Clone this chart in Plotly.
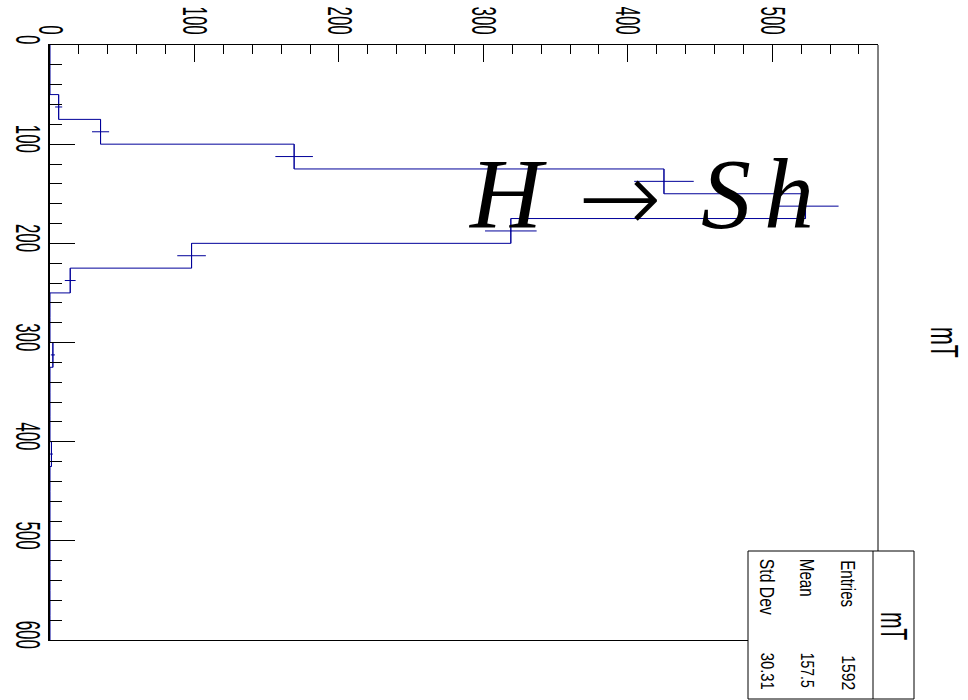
import json
import numpy as np
import plotly.graph_objects as go

# mT histogram: 24 bins of width 25 between 0 and 600
bin_edges = list(range(0, 625, 25))
counts = [0, 0, 6, 35, 169, 425, 523, 319, 98, 14, 0, 0,
          2, 0, 0, 0, 1, 0, 0, 0, 0, 0, 0, 0]

hist_name = "mT"
stat_labels = ["Entries", "Mean", "Std Dev"]
stat_values = ["1592", "157.5", "30.31"]
count_ticks = [0, 100, 200, 300, 400, 500]
mt_ticks = [0, 100, 200, 300, 400, 500, 600]

LINE = "#000099"
SANS = "Liberation Sans, Arial, sans-serif"
SERIF = "Liberation Serif, DejaVu Serif, serif"

edges = np.array(bin_edges, dtype=float)
c = np.array(counts, dtype=float)
centers = 0.5 * (edges[:-1] + edges[1:])
half_w = 0.5 * (edges[1:] - edges[:-1])
err = np.sqrt(c)

# ROOT-style top margin: 5% above the highest bin+error
count_max = float(np.max(c + err)) * 1.05

fig = go.Figure()

# histogram outline (counts run horizontally, mT runs downwards)
fig.add_trace(go.Scatter(
    x=list(c) + [c[-1]],
    y=list(edges),
    mode="lines",
    line=dict(color=LINE, width=1, shape="vh"),
    hoverinfo="skip",
))

# statistical error crosses on the filled bins
filled = c > 0
fig.add_trace(go.Scatter(
    x=c[filled],
    y=centers[filled],
    mode="markers",
    marker=dict(size=1, color=LINE),
    error_x=dict(type="data", array=err[filled], width=0, thickness=1, color=LINE),
    error_y=dict(type="data", array=half_w[filled], width=0, thickness=1, color=LINE),
    hoverinfo="skip",
))

PL, PR, PT, PB = 50, 878, 45, 640


def fx(x):
    return (x - PL) / (PR - PL)


def fy(y):
    return (PB - y) / (PB - PT)


axis_common = dict(
    tickmode="array",
    ticks="inside",
    tickwidth=1,
    tickcolor="black",
    tickangle=90,
    tickfont=dict(size=35, family=SANS, color="black"),
    showline=True,
    linecolor="black",
    showgrid=False,
    zeroline=False,
    automargin=False,
)

fig.update_layout(
    width=968,
    height=700,
    margin=dict(l=PL, r=968 - PR, t=PT, b=700 - PB),
    plot_bgcolor="white",
    paper_bgcolor="white",
    showlegend=False,
    font=dict(family=SANS, color="black"),
    xaxis=dict(
        side="top",
        range=[0, count_max],
        tickvals=count_ticks,
        ticktext=[str(v) for v in count_ticks],
        ticklen=17,
        ticklabelstandoff=-3,
        linewidth=1,
        mirror=True,
        minor=dict(dtick=20, tick0=0, ticks="inside", ticklen=9, tickcolor="black", tickwidth=1),
        **axis_common,
    ),
    yaxis=dict(
        range=[600, 0],
        tickvals=mt_ticks,
        ticktext=[str(v) for v in mt_ticks],
        ticklen=25,
        ticklabelstandoff=-10,
        linewidth=2,
        mirror=False,
        minor=dict(dtick=20, tick0=0, ticks="inside", ticklen=12, tickcolor="black", tickwidth=1),
        **axis_common,
    ),
)

# right edge of the frame
fig.add_shape(type="line", xref="paper", yref="paper", x0=1, x1=1, y0=0, y1=1,
              line=dict(color="black", width=1), layer="above")

# statistics box
box_l, box_r, box_t, box_b, box_div = 748, 914, 551, 699, 873
fig.add_shape(type="rect", xref="paper", yref="paper",
              x0=fx(box_l), x1=fx(box_r), y0=fy(box_b), y1=fy(box_t),
              line=dict(color="black", width=1), fillcolor="white", layer="above")
fig.add_shape(type="line", xref="paper", yref="paper",
              x0=fx(box_div), x1=fx(box_div), y0=fy(box_b), y1=fy(box_t),
              line=dict(color="black", width=1), layer="above")

# (text, x, y, size, condensed length, font)
labels = [(hist_name, 893.5, 626, 37, 28, SANS)]
stat_x = [848.5, 807.5, 767.5]
stat_label_y = [583.5, 578, 587]
stat_label_len = [47, 38, 56]
stat_value_y = [672, 670, 671]
stat_value_len = [35, 35, 37]
for i in range(3):
    labels.append((stat_labels[i], stat_x[i], stat_label_y[i], 21, stat_label_len[i], SANS))
    labels.append((stat_values[i], stat_x[i], stat_value_y[i], 19, stat_value_len[i], SANS))
labels.append((hist_name, 944, 343, 38, 31, SANS))

annotations = []
squeeze = []
for txt, xc, yc, size, length, fam in labels:
    annotations.append(dict(text=txt, x=fx(xc), y=fy(yc), xanchor="center", yanchor="middle",
                            textangle=90, font=dict(size=size, family=fam)))
    squeeze.append(length)

# process label
for txt, xc, yc, fam, wt in [("<i>H</i>", 507, 193, SERIF, 400),
                             ("→", 620, 198, "DejaVu Sans", 200),
                             ("<i>S</i>", 726, 193, SERIF, 400),
                             ("<i>h</i>", 789, 193, SERIF, 400)]:
    annotations.append(dict(text=txt, x=fx(xc), y=fy(yc), xanchor="center", yanchor="middle",
                            textangle=0, font=dict(size=100, family=fam, weight=wt, color="black")))
    squeeze.append(None)

for a in annotations:
    a.update(xref="paper", yref="paper", showarrow=False)
fig.update_layout(annotations=annotations)

# rotated labels are drawn in a narrow, condensed face
post = """
var gd = document.getElementById('{plot_id}');
var lens = %s;
function fit(t, L) {
  t.setAttribute('textLength', L.toFixed(2));
  t.setAttribute('lengthAdjust', 'spacingAndGlyphs');
}
gd.querySelectorAll('.xtick text, .ytick text').forEach(function (t) {
  fit(t, 9.4 * t.textContent.length);
});
gd.querySelectorAll('.annotation').forEach(function (g) {
  var i = parseInt(g.getAttribute('data-index'));
  var L = lens[i];
  if (L === null || L === undefined) { return; }
  var t = g.querySelector('text');
  if (t) { fit(t, L); }
  var r = g.querySelector('rect.bg');
  if (r) {
    var W = parseFloat(r.getAttribute('width'));
    var x = parseFloat(r.getAttribute('x') || 0);
    var w = L + 2;
    r.setAttribute('x', (x + (W - w) / 2).toFixed(2));
    r.setAttribute('width', w.toFixed(2));
  }
});
""" % json.dumps(squeeze)

fig.write_html("out.html", post_script=post)
